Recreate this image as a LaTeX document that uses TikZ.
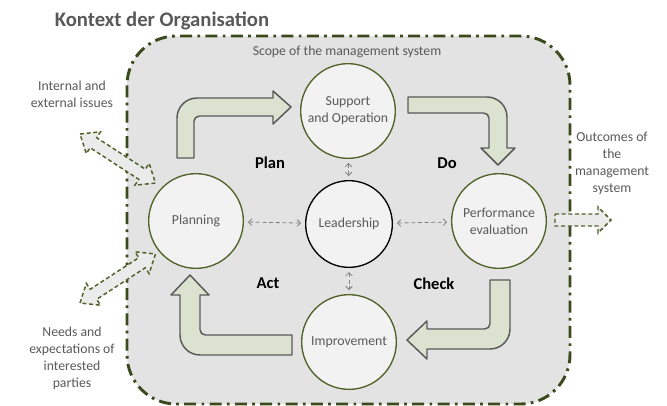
\documentclass[tikz,border=0pt]{standalone}
\usepackage{fontspec}
\setmainfont{Carlito}
\usetikzlibrary{positioning, calc, arrows.meta}

\definecolor{olive}{HTML}{4F6228}
\definecolor{darkolive}{HTML}{3B4A1C}
\definecolor{scopegray}{HTML}{E3E3E3}
\definecolor{stagefill}{HTML}{F2F2F2}
\definecolor{bendfill}{HTML}{DBE3D0}
\definecolor{txtgray}{HTML}{595959}

\tikzset{
  stage/.style={circle, draw=olive, line width=1pt, fill=stagefill,
    minimum size=71pt, inner sep=0pt, align=center, text=txtgray,
    font=\fontsize{10.3}{12.7}\selectfont},
  core/.style={stage, draw=black, minimum size=65pt},
  link/.style={densely dashed, draw=gray, line width=0.6pt,
    {Straight Barb[length=2.5pt,width=5pt]}-{Straight Barb[length=2.5pt,width=5pt]},
    shorten <=3pt, shorten >=3pt},
  bendarrow/.style={draw=txtgray, line width=1.1pt, fill=bendfill, line join=round},
  ext/.style={draw=olive, dashed, dash pattern=on 3pt off 2pt, line width=1.1pt,
    fill=scopegray!70!white},
  note/.style={text=txtgray, align=center, font=\fontsize{10.3}{12.7}\selectfont},
  phase/.style={font=\fontsize{12.4}{14}\selectfont\bfseries}
}

\begin{document}
\begin{tikzpicture}[x=0.75pt, y=-0.75pt]
  \useasboundingbox (0,0) rectangle (667,405);

  % scope of the management system
  \draw[darkolive, fill=scopegray, line width=2.2pt, rounded corners=37pt,
    dash pattern=on 9pt off 4pt on 2pt off 4pt] (127,36) rectangle (570,404);

  \node[text=txtgray, font=\fontsize{15.5}{18}\selectfont\bfseries] (title) at (162,21) {Kontext der Organisation};
  \node[note] (scope) at (347,52) {Scope of the management system};

  % PDCA arrows
  \draw[bendarrow] (177,158) [rounded corners=15pt] -- (177,98) [sharp corners] -- (273,98) -- (273,91)
    -- (291,107) -- (273,124) -- (273,116) [rounded corners=4pt] -- (194,116) [sharp corners] -- (194,158) -- cycle;
  \draw[bendarrow] (408,97) [rounded corners=15pt] -- (507,97) [sharp corners] -- (507,148) -- (515,148)
    -- (498,165) -- (481,148) -- (489,148) [rounded corners=4pt] -- (489,113) [sharp corners] -- (408,113) -- cycle;
  \draw[bendarrow] (510,280) [rounded corners=15pt] -- (510,349) [sharp corners] -- (427,349) -- (427,359)
    -- (407,340) -- (427,321) -- (427,329) [rounded corners=4pt] -- (490,329) [sharp corners] -- (490,280) -- cycle;
  \draw[bendarrow] (292,355) [rounded corners=15pt] -- (180,355) [sharp corners] -- (180,295) -- (171,295)
    -- (190,275) -- (209,295) -- (200,295) [rounded corners=4pt] -- (200,335) [sharp corners] -- (292,335) -- cycle;

  % stages
  \node[stage] (plan) at (196,221) {Planning};
  \node[stage] (supp) at (348,111) {Support\\and Operation};
  \node[stage] (perf) at (499,221) {Performance\\evaluation};
  \node[stage] (impr) at (349,342) {Improvement};
  \node[core] (lead) at (349,224) {Leadership};

  \draw[link] (plan) -- (lead);
  \draw[link] (lead) -- (perf);
  \draw[link] (supp) -- (lead);
  \draw[link] (lead) -- (impr);

  \node[phase] (pl) at (270,163) {Plan};
  \node[phase] (do) at (447,163) {Do};
  \node[phase] (ac) at (268,283) {Act};
  \node[phase] (ch) at (434,284) {Check};

  % context arrows
  \begin{scope}[shift={(80,134)}, rotate=-33]
    \draw[ext] (0,0) -- (16,-13) -- (16,-6) -- (74,-6) -- (74,-13) -- (90,0)
      -- (74,13) -- (74,6) -- (16,6) -- (16,13) -- cycle;
  \end{scope}
  \begin{scope}[shift={(80,303)}, rotate=33]
    \draw[ext] (0,0) -- (16,-13) -- (16,-6) -- (74,-6) -- (74,-13) -- (90,0)
      -- (74,13) -- (74,6) -- (16,6) -- (16,13) -- cycle;
  \end{scope}
  \draw[ext] (555,214) -- (598,214) -- (598,207) -- (611,220) -- (598,233) -- (598,226) -- (555,226) -- cycle;

  \node[note] (issues) at (72,94) {Internal and\\external issues};
  \node[note] (needs) at (72,358) {Needs and\\expectations of\\interested\\parties};
  \node[note] (outc) at (612,163) {Outcomes of\\the\\management\\system};
\end{tikzpicture}
\end{document}
